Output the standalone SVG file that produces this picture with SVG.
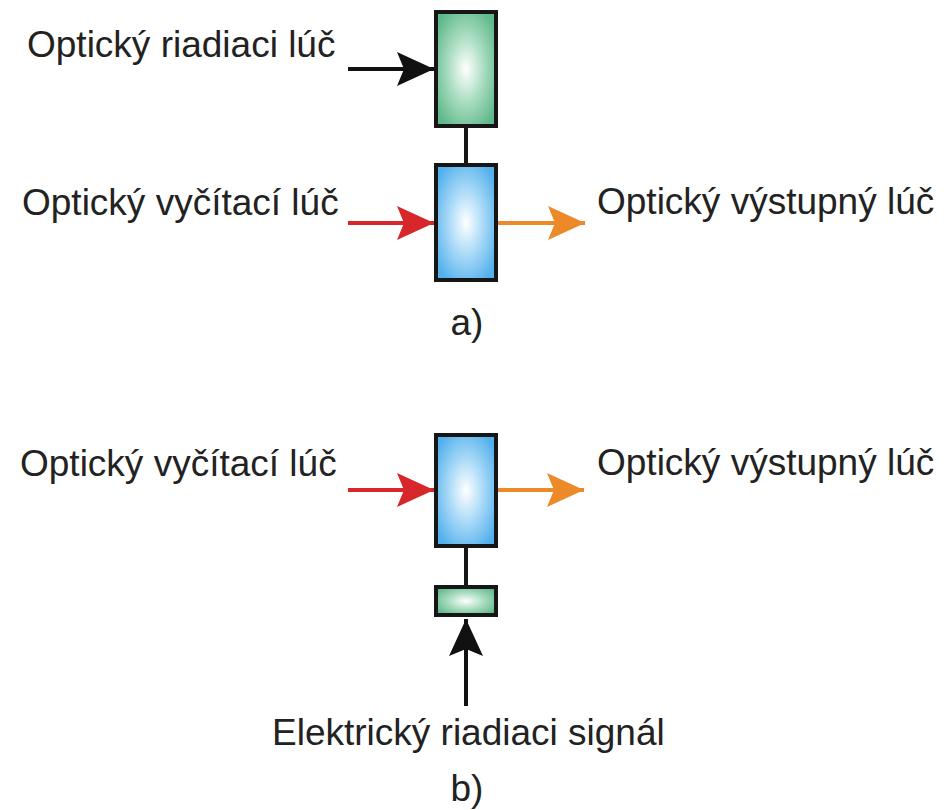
<svg xmlns="http://www.w3.org/2000/svg" width="944" height="810" viewBox="0 0 944 810">
<style>
  text { font-family: "Liberation Sans", Arial, sans-serif; font-size: 37px; fill: #222; }
  .box { stroke: #161616; stroke-width: 4; }
  .link { stroke: #161616; stroke-width: 4; fill: none; }
  .blk { stroke: #111; stroke-width: 4; fill: none; }
  .red { stroke: #d8272a; stroke-width: 4; fill: none; }
  .org { stroke: #ec8a2a; stroke-width: 4; fill: none; }
</style>
<defs>
  <radialGradient id="gGreen" cx="0.5" cy="0.5" r="0.6">
    <stop offset="0" stop-color="#ffffff"/>
    <stop offset="0.5" stop-color="#a8dcc0"/>
    <stop offset="1" stop-color="#5fb88a"/>
  </radialGradient>
  <radialGradient id="gBlue" cx="0.5" cy="0.5" r="0.6">
    <stop offset="0" stop-color="#ffffff"/>
    <stop offset="0.5" stop-color="#a6d8f7"/>
    <stop offset="1" stop-color="#52b0ec"/>
  </radialGradient>
  <marker id="aBlk" markerUnits="userSpaceOnUse" viewBox="0 -18 38 36" refX="37" refY="0" markerWidth="38" markerHeight="36" orient="auto">
    <path d="M0,-17 L37,0 L0,17 L7,0 z" fill="#111"/>
  </marker>
  <marker id="aRed" markerUnits="userSpaceOnUse" viewBox="0 -18 38 36" refX="37" refY="0" markerWidth="38" markerHeight="36" orient="auto">
    <path d="M0,-17 L37,0 L0,17 L7,0 z" fill="#d8272a"/>
  </marker>
  <marker id="aOrg" markerUnits="userSpaceOnUse" viewBox="0 -18 38 36" refX="37" refY="0" markerWidth="38" markerHeight="36" orient="auto">
    <path d="M0,-17 L37,0 L0,17 L7,0 z" fill="#ec8a2a"/>
  </marker>
</defs>
<rect width="944" height="810" fill="#ffffff"/>

<g id="connectors">
  <line class="link" x1="466" y1="128" x2="466" y2="165"/>
  <line class="link" x1="466" y1="548" x2="466" y2="587"/>
  <line class="blk" x1="348" y1="69" x2="434" y2="69" marker-end="url(#aBlk)"/>
  <line class="red" x1="348" y1="223" x2="434" y2="223" marker-end="url(#aRed)"/>
  <line class="org" x1="498" y1="223" x2="585" y2="223" marker-end="url(#aOrg)"/>
  <line class="red" x1="348" y1="490" x2="434" y2="490" marker-end="url(#aRed)"/>
  <line class="org" x1="498" y1="490" x2="584" y2="490" marker-end="url(#aOrg)"/>
  <line class="blk" x1="466" y1="706" x2="466" y2="619" marker-end="url(#aBlk)"/>
</g>

<g id="a-modulator-green">
  <rect class="box" x="436" y="12" width="60" height="114" fill="url(#gGreen)"/>
</g>
<g id="a-modulator-blue">
  <rect class="box" x="436" y="165" width="60" height="115" fill="url(#gBlue)"/>
</g>
<g id="b-modulator-blue">
  <rect class="box" x="436" y="435" width="60" height="111" fill="url(#gBlue)"/>
</g>
<g id="b-electrode">
  <rect class="box" x="436" y="587" width="60" height="28" fill="url(#gGreen)"/>
</g>

<g id="labels">
  <text x="27" y="57">Optický riadiaci lúč</text>
  <text x="22" y="215">Optický vyčítací lúč</text>
  <text x="597" y="214">Optický výstupný lúč</text>
  <text x="467" y="335" text-anchor="middle">a)</text>
  <text x="20" y="476">Optický vyčítací lúč</text>
  <text x="597" y="475">Optický výstupný lúč</text>
  <text x="272" y="745">Elektrický riadiaci signál</text>
  <text x="467" y="801" text-anchor="middle">b)</text>
</g>
</svg>
